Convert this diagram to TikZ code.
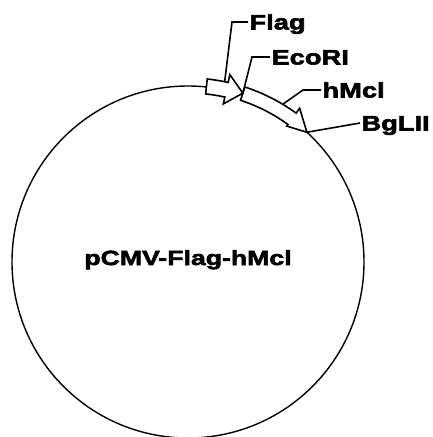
\documentclass[tikz,border=0pt]{standalone}
\usepackage{fontspec}
\newfontfamily\plasmidfont{Liberation Sans}[FakeStretch=1.3,BoldFeatures={FakeBold=2.8}]
\usetikzlibrary{calc}
\tikzset{%
	% Specifications for style of the map parts:
	backbone/.style = {draw=black, line width=1.4pt},
	feature/.style = {draw=black, fill=white, line width=1.6pt, line join=miter},
	leader/.style = {draw=black, line width=1.6pt},
	sitelabel/.style = {anchor=west, inner sep=0pt, outer sep=1.5pt,
		text height=15pt, text depth=0pt,
		font=\plasmidfont\bfseries\fontsize{21}{21}\selectfont},
	plasmidname/.style = {anchor=base, inner sep=0pt,
		font=\plasmidfont\bfseries\fontsize{20.5}{20.5}\selectfont},
}

\begin{document}
\begin{tikzpicture}[x=1pt, y=1pt]
\useasboundingbox (0,0) rectangle (433,-437);
\coordinate (ori) at (188,-262);

%% Plasmid backbone and name
\draw[backbone] (ori) circle[radius=176];
\node (pname) [plasmidname] at (188,-265) {pCMV-Flag-hMcl};

%% Features (drawn as block arrows along the backbone)
\begin{scope}[shift={(ori)}]
\draw[feature] (72:184) arc[start angle=72, end angle=54, radius=184]
	-- (54:190) -- (47.5:176) -- (54:168) -- (54:170)
	arc[start angle=54, end angle=72, radius=170] -- cycle;
\draw[feature] (84:184) arc[start angle=84, end angle=77.4, radius=184]
	-- (77.4:192) -- (72:177.5) -- (77.4:162) -- (77.4:169)
	arc[start angle=77.4, end angle=84, radius=169] -- cycle;
\end{scope}

%% Points where the labels point to
\coordinate (flagpt)  at ($(ori)+(78.5:184)$);
\coordinate (ecopt)   at ($(ori)+(72:177.5)$);
\coordinate (hmclpt)  at ($(ori)+(59:184)$);
\coordinate (bglpt)   at ($(ori)+(47.5:176)$);

%% Labels
\node (flag)   [sitelabel] at (248,-22)  {Flag};
\node (ecori)  [sitelabel] at (270,-57)  {EcoRI};
\node (hmcl)   [sitelabel] at (321,-90)  {hMcl};
\node (bglii)  [sitelabel] at (360,-123) {BgLII};

%% Leader lines
\draw[leader] (flag.west) -- ++(-16,0) -- (flagpt);
\draw[leader] (ecori.west) -- ++(-18,0) -- (ecopt);
\draw[leader] (hmcl.west) -- ++(-18,0) -- (hmclpt);
\draw[leader] (bglii.west) -- (bglpt);
\end{tikzpicture}
\end{document}
